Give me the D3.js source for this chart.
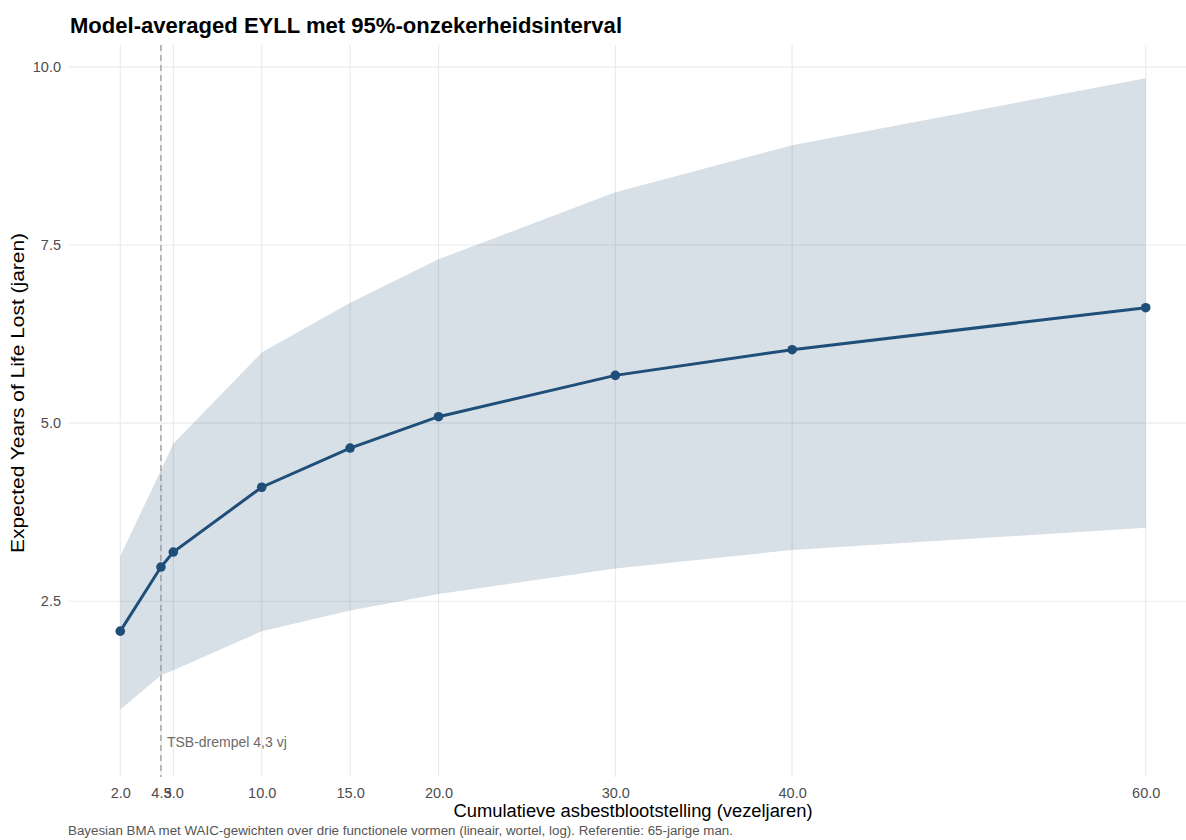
<!DOCTYPE html>
<html>
<head>
<meta charset="utf-8">
<script src="https://cdn.jsdelivr.net/npm/d3@7"></script>
<style>
  body { margin: 0; background: #fff; }
  svg { font-family: "Liberation Sans", Arial, sans-serif; }
</style>
</head>
<body>
<svg width="1186" height="840"></svg>
<script>
(function () {

  // exposure points (fibre-years) and model-averaged EYLL
  var exposure = [2, 4.3, 5, 10, 15, 20, 30, 40, 60]
  var eyll     = [2.08, 2.98, 3.19, 4.10, 4.65, 5.09, 5.67, 6.03, 6.62]
  var lower    = [0.98, 1.46, 1.53, 2.08, 2.37, 2.60, 2.96, 3.22, 3.53]
  var upper    = [3.13, 4.34, 4.71, 5.99, 6.69, 7.30, 8.24, 8.90, 9.84]

  var xTicks = [2, 4.3, 5, 10, 15, 20, 30, 40, 60]
  var yTicks = [2.5, 5.0, 7.5, 10.0]
  var threshold = 4.3

  var rows = exposure.map(function (x, i) {
    return { x: x, y: eyll[i], lo: lower[i], hi: upper[i] }
  })

  var svg = d3.select('svg')

  var x = d3.scaleLinear().domain([-0.9, 62.9]).range([69, 1197])
  var y = d3.scaleLinear().domain([0.033, 10.307]).range([777, 45])

  var top = y.range()[1], bottom = y.range()[0]

  // grid lines
  svg.append('g').selectAll('line')
    .data(yTicks)
    .enter().append('line')
    .attr('x1', 69).attr('x2', 1197)
    .attr('y1', d => y(d)).attr('y2', d => y(d))
    .attr('stroke', '#ebebeb').attr('stroke-width', 1.2)

  svg.append('g').selectAll('line')
    .data(xTicks)
    .enter().append('line')
    .attr('x1', d => x(d)).attr('x2', d => x(d))
    .attr('y1', top).attr('y2', bottom)
    .attr('stroke', '#ebebeb').attr('stroke-width', 1.2)

  // ribbon
  var area = d3.area()
    .x(d => x(d.x))
    .y0(d => y(d.lo))
    .y1(d => y(d.hi))

  svg.append('path')
    .datum(rows)
    .attr('d', area)
    .attr('fill', '#1f4e79')
    .attr('fill-opacity', 0.18)

  // threshold
  svg.append('line')
    .attr('x1', x(threshold)).attr('x2', x(threshold))
    .attr('y1', top).attr('y2', bottom)
    .attr('stroke', '#8a8a8a')
    .attr('stroke-width', 1.1)
    .attr('stroke-dasharray', '6,4')

  svg.append('text')
    .attr('x', x(threshold) + 6)
    .attr('y', y(0.5) - 2)
    .attr('dy', '0.35em')
    .attr('font-size', 14)
    .attr('fill', '#6b6b6b')
    .text('TSB-drempel 4,3 vj')

  // line + points
  var line = d3.line().x(d => x(d.x)).y(d => y(d.y))

  svg.append('path')
    .datum(rows)
    .attr('d', line)
    .attr('fill', 'none')
    .attr('stroke', '#1f4e79')
    .attr('stroke-width', 3)

  svg.selectAll('circle')
    .data(rows)
    .enter().append('circle')
    .attr('cx', d => x(d.x))
    .attr('cy', d => y(d.y))
    .attr('r', 4.8)
    .attr('fill', '#1f4e79')

  // axes (labels only, theme_minimal style)
  var xAxis = svg.append('g')
    .attr('transform', 'translate(0,' + (bottom + 3) + ')')
    .call(d3.axisBottom(x).tickValues(xTicks).tickFormat(d3.format('.1f')).tickSize(0).tickPadding(8))
  var yAxis = svg.append('g')
    .attr('transform', 'translate(' + 61 + ',0)')
    .call(d3.axisLeft(y).tickValues(yTicks).tickFormat(d3.format('.1f')).tickSize(0).tickPadding(0))

  ;[xAxis, yAxis].forEach(function (g) {
    g.select('.domain').remove()
    g.selectAll('text')
      .attr('font-family', '"Liberation Sans", Arial, sans-serif')
      .attr('font-size', 14.5)
      .attr('fill', '#4d4d4d')
  })

  // titles
  svg.append('text')
    .attr('x', 70).attr('y', 33)
    .attr('font-size', 22)
    .attr('font-weight', 'bold')
    .attr('fill', '#000')
    .attr('textLength', 552)
    .attr('lengthAdjust', 'spacingAndGlyphs')
    .text('Model-averaged EYLL met 95%-onzekerheidsinterval')

  svg.append('text')
    .attr('x', (69 + 1197) / 2).attr('y', 817)
    .attr('text-anchor', 'middle')
    .attr('font-size', 18)
    .attr('fill', '#000')
    .attr('textLength', 359)
    .attr('lengthAdjust', 'spacingAndGlyphs')
    .text('Cumulatieve asbestblootstelling (vezeljaren)')

  svg.append('text')
    .attr('transform', 'translate(24,393) rotate(-90)')
    .attr('text-anchor', 'middle')
    .attr('font-size', 18)
    .attr('fill', '#000')
    .attr('textLength', 320)
    .attr('lengthAdjust', 'spacingAndGlyphs')
    .text('Expected Years of Life Lost (jaren)')

  svg.append('text')
    .attr('x', 68).attr('y', 835)
    .attr('font-size', 12.5)
    .attr('fill', '#555')
    .attr('textLength', 665)
    .attr('lengthAdjust', 'spacingAndGlyphs')
    .text('Bayesian BMA met WAIC-gewichten over drie functionele vormen (lineair, wortel, log). Referentie: 65-jarige man.')

})()
</script>
</body>
</html>
